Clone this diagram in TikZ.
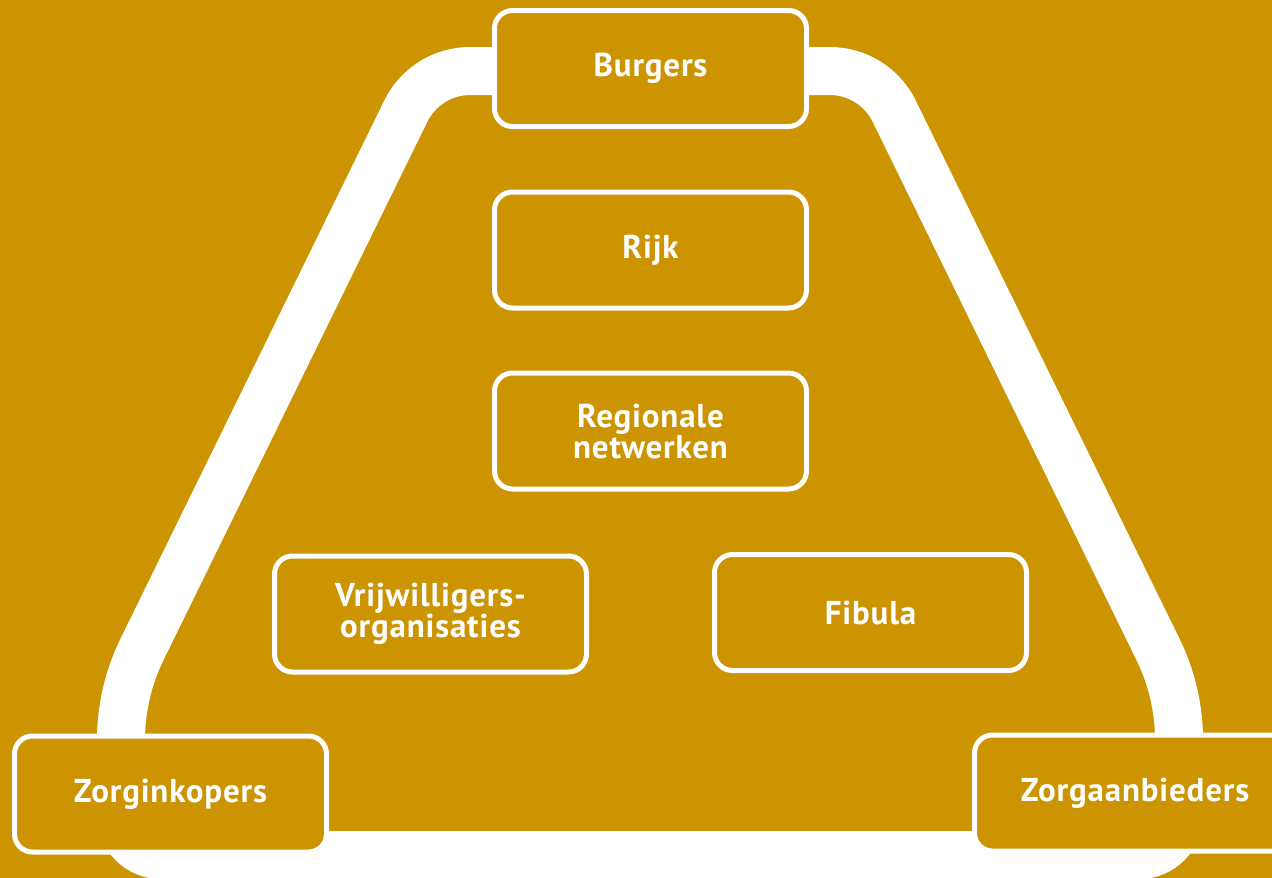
\documentclass[tikz,border=0pt]{standalone}
\usepackage{fontspec}
\setmainfont[LetterSpace=2.5]{PT Sans}
\usetikzlibrary{calc}
\definecolor{gold}{RGB}{204,148,0}
\begin{document}
\begin{tikzpicture}[x=1pt,y=-1pt,
  box/.style={draw=white, line width=5pt, fill=gold, rounded corners=18pt,
    minimum width=312pt, minimum height=116pt, inner sep=0pt, text=white,
    font=\fontsize{33}{31}\selectfont\bfseries, align=center},
  band/.style={draw=white, line width=48pt}]
\fill[gold] (0,0) rectangle (1272,878);
\useasboundingbox (0,0) rectangle (1272,878);
\clip (0,0) rectangle (1272,878);
% band: corner vertices and tangent points of its centre line
\coordinate (TL) at (425.5,71);
\coordinate (TR) at (874.5,71);
\coordinate (t1) at (470,71);
\coordinate (t2) at (830,71);
\coordinate (r1) at (894.1,111);
\coordinate (rs) at (1158,649.4);
\coordinate (rv1) at (1179,740);
\coordinate (rv2) at (1179,815);
\coordinate (rb) at (1139,855);
\coordinate (lb) at (161,855);
\coordinate (lv2) at (121,815);
\coordinate (lv1) at (121,740);
\coordinate (ls) at (142,649.4);
\coordinate (l2) at (405.9,111);
\draw[band] (t1) -- (t2)
  .. controls ($(t2)!0.61!(TR)$) and ($(r1)!0.61!(TR)$) .. (r1) -- (rs)
  .. controls (1171.8,677.6) and (1179,708.6) .. (rv1) -- (rv2)
  .. controls (1179,837.1) and (1161.1,855) .. (rb) -- (lb)
  .. controls (138.9,855) and (121,837.1) .. (lv2) -- (lv1)
  .. controls (121,708.6) and (128.2,677.6) .. (ls) -- (l2)
  .. controls ($(l2)!0.61!(TL)$) and ($(t1)!0.61!(TL)$) .. (t1) -- cycle;
% boxes
\node[box] (burgers) at (650.5,68.5) {Burgers};
\node[box] (rijk) at (650.5,250) {Rijk};
\node[box] (regio) at (650.5,431) {Regionale\\netwerken};
\node[box] (vrijw) at (430.5,614) {Vrijwilligers-\\organisaties};
\node[box] (fibula) at (870.5,612.5) {Fibula};
\node[box] (inkopers) at (170.5,794) {Zorginkopers};
\node[box, minimum width=321pt] (aanbieders) at (1135,793) {Zorgaanbieders};
\end{tikzpicture}
\end{document}
